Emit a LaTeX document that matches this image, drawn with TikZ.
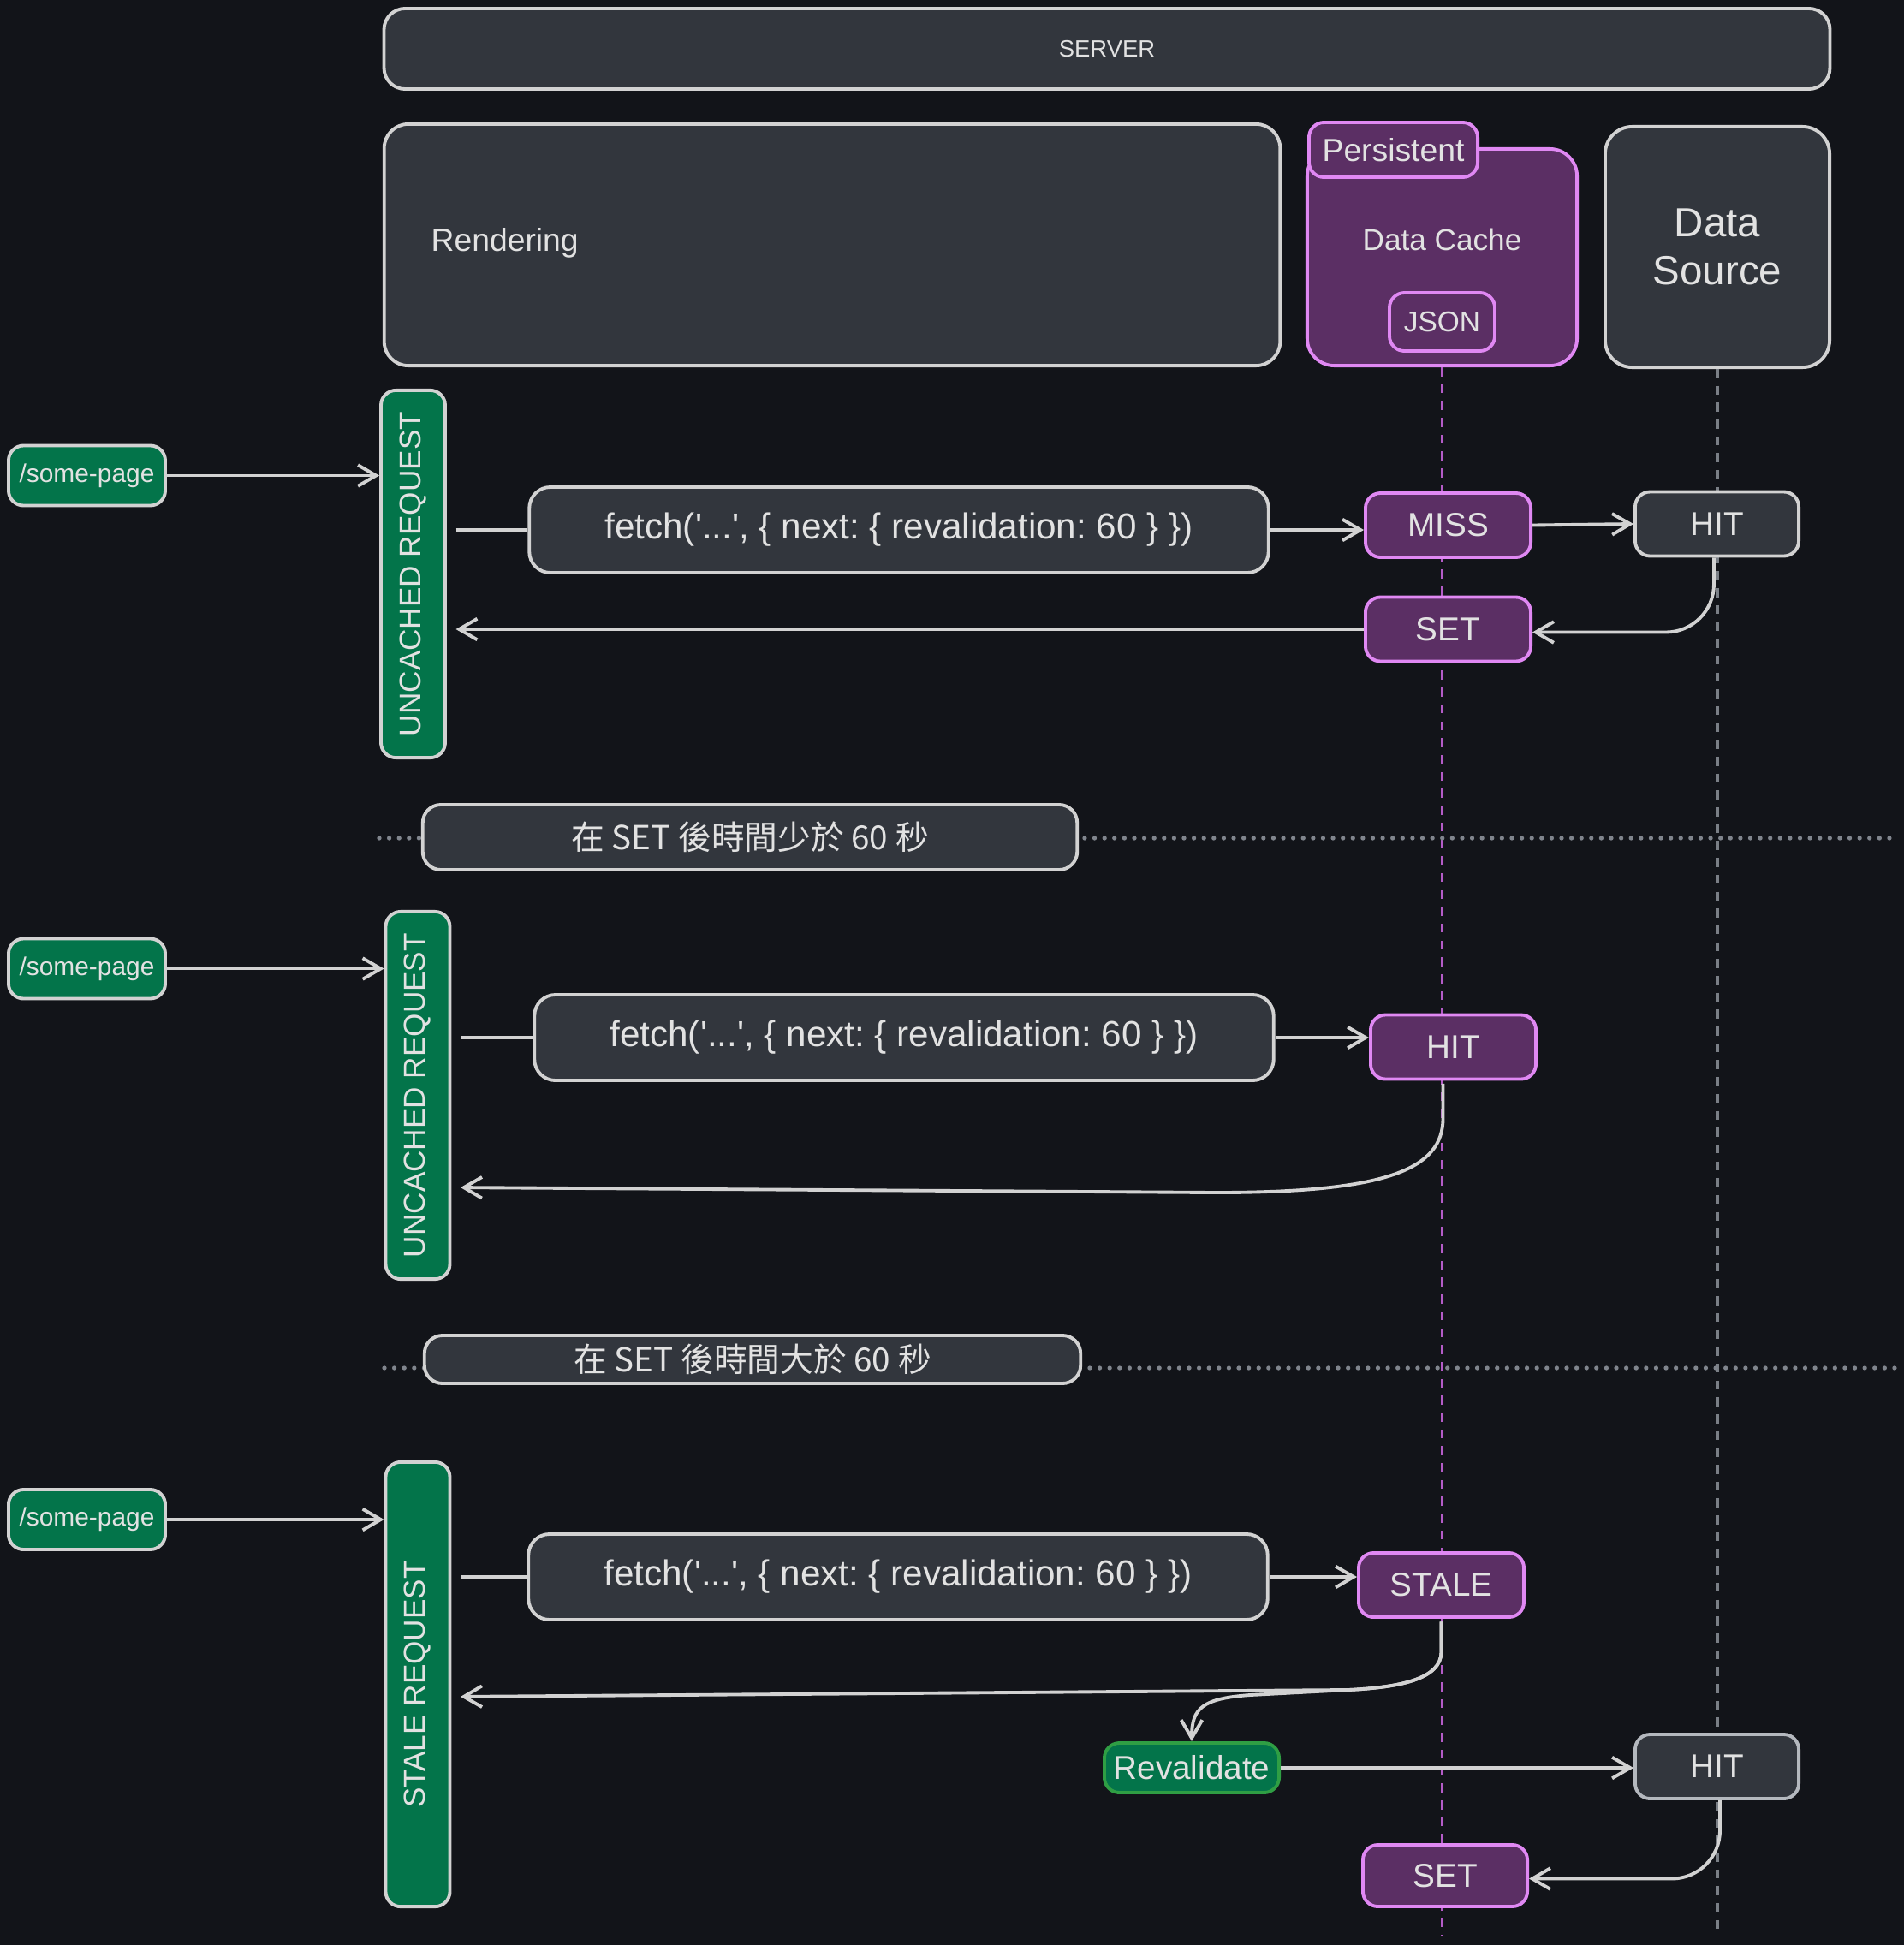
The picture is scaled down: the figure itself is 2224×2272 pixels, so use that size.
\documentclass[tikz,border=0pt]{standalone}
\usepackage{fontspec}
\setmainfont{Liberation Sans}
\newfontfamily\cjk{Noto Sans CJK TC}
\usetikzlibrary{arrows.meta}
\newcommand\fsz[1]{\fontsize{#1}{#1}\selectfont}
\newcommand\sq{\textquotesingle}
\frenchspacing
\definecolor{bg}{HTML}{121419}
\definecolor{gf}{HTML}{32363D}
\definecolor{sc}{HTML}{D2D2D2}
\definecolor{tc}{HTML}{E2E2E2}
\definecolor{pf}{HTML}{5B2F64}
\definecolor{ps}{HTML}{E088F3}
\definecolor{gn}{HTML}{03744A}
\definecolor{gns}{HTML}{2F9E44}
\definecolor{plife}{HTML}{B45CC8}
\definecolor{glife}{HTML}{7A7F86}
\definecolor{dotc}{HTML}{80858D}
\definecolor{hitgs}{HTML}{B4B8BE}
\begin{document}
\begin{tikzpicture}[x=0.01cm,y=-0.01cm,
  gbox/.style={draw=sc, fill=gf, line width=1.1pt, rounded corners=5pt, inner sep=0pt, text=tc},
  pbox/.style={draw=ps, fill=pf, line width=1.1pt, rounded corners=5pt, inner sep=0pt, text=tc},
  grn/.style={draw=sc, fill=gn, line width=1.1pt, rounded corners=5pt, inner sep=0pt, text=tc},
  lbl/.style={text=tc, inner sep=0pt},
  life/.style={line width=0.95pt, dash pattern=on 3pt off 2.6pt},
  dots/.style={draw=dotc, line width=1.5pt, line cap=round, dash pattern=on 0pt off 3.3pt},
  ln/.style={draw=sc, line width=1.1pt},
  arr/.style={draw=sc, line width=1.1pt, -{Straight Barb[length=6pt,width=7pt]}},
  fetchbox/.style={gbox, rounded corners=7pt, minimum width=8.63cm, minimum height=1.0cm, font=\fsz{12}},
  smallp/.style={pbox, minimum width=1.93cm, minimum height=0.75cm, font=\fsz{11}},
  smallg/.style={gbox, minimum width=1.91cm, minimum height=0.75cm, font=\fsz{11}},
  page/.style={grn, minimum width=1.83cm, minimum height=0.70cm, font=\fsz{8.5}},
  bar/.style={grn, minimum width=0.75cm},
  divbox/.style={gbox, rounded corners=6pt, font=\cjk\fsz{11}}
]
\fill[bg] (0,0) rectangle (2224,2272);
\useasboundingbox (0,0) rectangle (2224,2272);

% header
\node[gbox, rounded corners=7pt, minimum width=16.88cm, minimum height=0.94cm, font=\fsz{7.8}] (server) at (1293,57) {SERVER};
\node[gbox, rounded corners=8pt, minimum width=10.46cm, minimum height=2.82cm] (render) at (972,286) {};
\node[lbl, anchor=west, font=\fsz{10.6}] (rendertxt) at (503,284) {Rendering};
\node[pbox, rounded corners=9pt, minimum width=3.15cm, minimum height=2.53cm] (cache) at (1684.5,300.5) {};
\node[pbox, rounded corners=5pt, minimum width=1.97cm, minimum height=0.64cm, font=\fsz{10.6}] (persist) at (1627.5,175) {Persistent};
\node[lbl, font=\fsz{10}] (cachetxt) at (1684.5,280) {Data Cache};
\node[pbox, rounded corners=5pt, minimum width=1.23cm, minimum height=0.68cm, font=\fsz{9.5}] (json) at (1684.5,376) {JSON};
\node[gbox, rounded corners=9pt, minimum width=2.62cm, minimum height=2.81cm, align=center, font=\fontsize{13.5}{16}\selectfont] (source) at (2006,288.5) {Data\\Source};

% lifelines
\coordinate (pend) at (1684,2262);
\coordinate (gend) at (2005,2262);
\draw[life, plife] (cache.south) -- (cache.south |- pend);
\draw[life, glife] (source.south) -- (source.south |- gend);

% dividers
\coordinate (d1l) at (443,979);
\coordinate (d1r) at (2212,979);
\coordinate (d2l) at (449,1598);
\coordinate (d2r) at (2216,1598);
\draw[dots] (d1l) -- (d1r);
\draw[dots] (d2l) -- (d2r);
\node[divbox, minimum width=7.64cm, minimum height=0.76cm] (div1) at (876,978) {在 SET 後時間少於 60 秒};
\node[divbox, minimum width=7.66cm, minimum height=0.56cm] (div2) at (879,1588) {在 SET 後時間大於 60 秒};

% section 1
\node[page] (sp1) at (101.5,555.5) {/some-page};
\node[bar, minimum height=4.29cm, label={[rotate=90, text=tc, font=\fsz{10}]center:UNCACHED REQUEST}] (bar1) at (482.5,670.5) {};
\node[fetchbox] (fetch1) at (1050,619) {fetch(\sq...\sq, \{ next: \{ revalidation: 60 \} \})};
\node[smallp] (miss) at (1691.5,613.5) {MISS};
\node[smallg] (hit1) at (2005.5,612) {HIT};
\node[smallp] (set1) at (1691.5,735) {SET};
\draw[arr] (sp1.east) -- (bar1.west |- sp1.east);
\draw[ln, shorten <=3pt] (bar1.east |- fetch1.west) -- (fetch1.west);
\draw[arr] (fetch1.east) -- (miss.west |- fetch1.east);
\draw[arr] (miss.east) -- (hit1.west);
\draw[arr, shorten >=3pt] (set1.west) -- (bar1.east |- set1.west);
\draw[arr, rounded corners=16pt] ([xshift=-1pt]hit1.south) |- ([yshift=-1pt]set1.east);

% section 2
\node[page] (sp2) at (101.5,1131.5) {/some-page};
\node[bar, minimum height=4.29cm, label={[rotate=90, text=tc, font=\fsz{10}]center:UNCACHED REQUEST}] (bar2) at (488,1279.5) {};
\node[fetchbox] (fetch2) at (1056,1212) {fetch(\sq...\sq, \{ next: \{ revalidation: 60 \} \})};
\node[smallp] (hit2) at (1697.5,1223) {HIT};
\draw[arr] (sp2.east) -- (bar2.west |- sp2.east);
\draw[ln, shorten <=3pt] (bar2.east |- fetch2.west) -- (fetch2.west);
\draw[arr] (fetch2.east) -- (hit2.west |- fetch2.east);
\draw[arr, shorten >=3pt] ([xshift=-3.4pt,yshift=-1pt]hit2.south) -- ++(0,40) .. controls +(0,60) and +(200,0) .. (1420,1393) -- (bar2.east |- 0,1387);

% section 3
\node[page] (sp3) at (101.5,1775) {/some-page};
\node[bar, minimum height=5.19cm, label={[rotate=90, text=tc, font=\fsz{10}]center:STALE REQUEST}] (bar3) at (488,1967.5) {};
\node[fetchbox] (fetch3) at (1049,1842) {fetch(\sq...\sq, \{ next: \{ revalidation: 60 \} \})};
\node[smallp] (stale) at (1683.5,1851.5) {STALE};
\node[grn, draw=gns, minimum width=2.04cm, minimum height=0.58cm, font=\fsz{11}] (reval) at (1392,2065) {Revalidate};
\node[smallg, draw=hitgs] (hit3) at (2005.5,2063.5) {HIT};
\node[smallp, minimum width=1.92cm, minimum height=0.72cm] (set3) at (1688,2191) {SET};
\draw[arr] (sp3.east) -- (bar3.west |- sp3.east);
\draw[ln, shorten <=3pt] (bar3.east |- fetch3.west) -- (fetch3.west);
\draw[arr] (fetch3.east) -- (stale.west |- fetch3.east);
\draw[arr, shorten >=3pt] ([yshift=-1pt]stale.south) -- ++(0,35) .. controls +(0,32) and +(60,-3) .. (1575,1974) -- (bar3.east |- 0,1982);
\draw[arr] ([yshift=-1pt]stale.south) -- ++(0,35) .. controls +(0,32) and +(60,-3) .. (1575,1974) -- (1460,1980) .. controls (1405,1984) and (1392,1995) .. (reval.north);
\draw[arr] (reval.east) -- (hit3.west |- reval.east);
\draw[arr, rounded corners=16pt] ([xshift=1pt]hit3.south) |- ([yshift=-1pt]set3.east);
\end{tikzpicture}
\end{document}
